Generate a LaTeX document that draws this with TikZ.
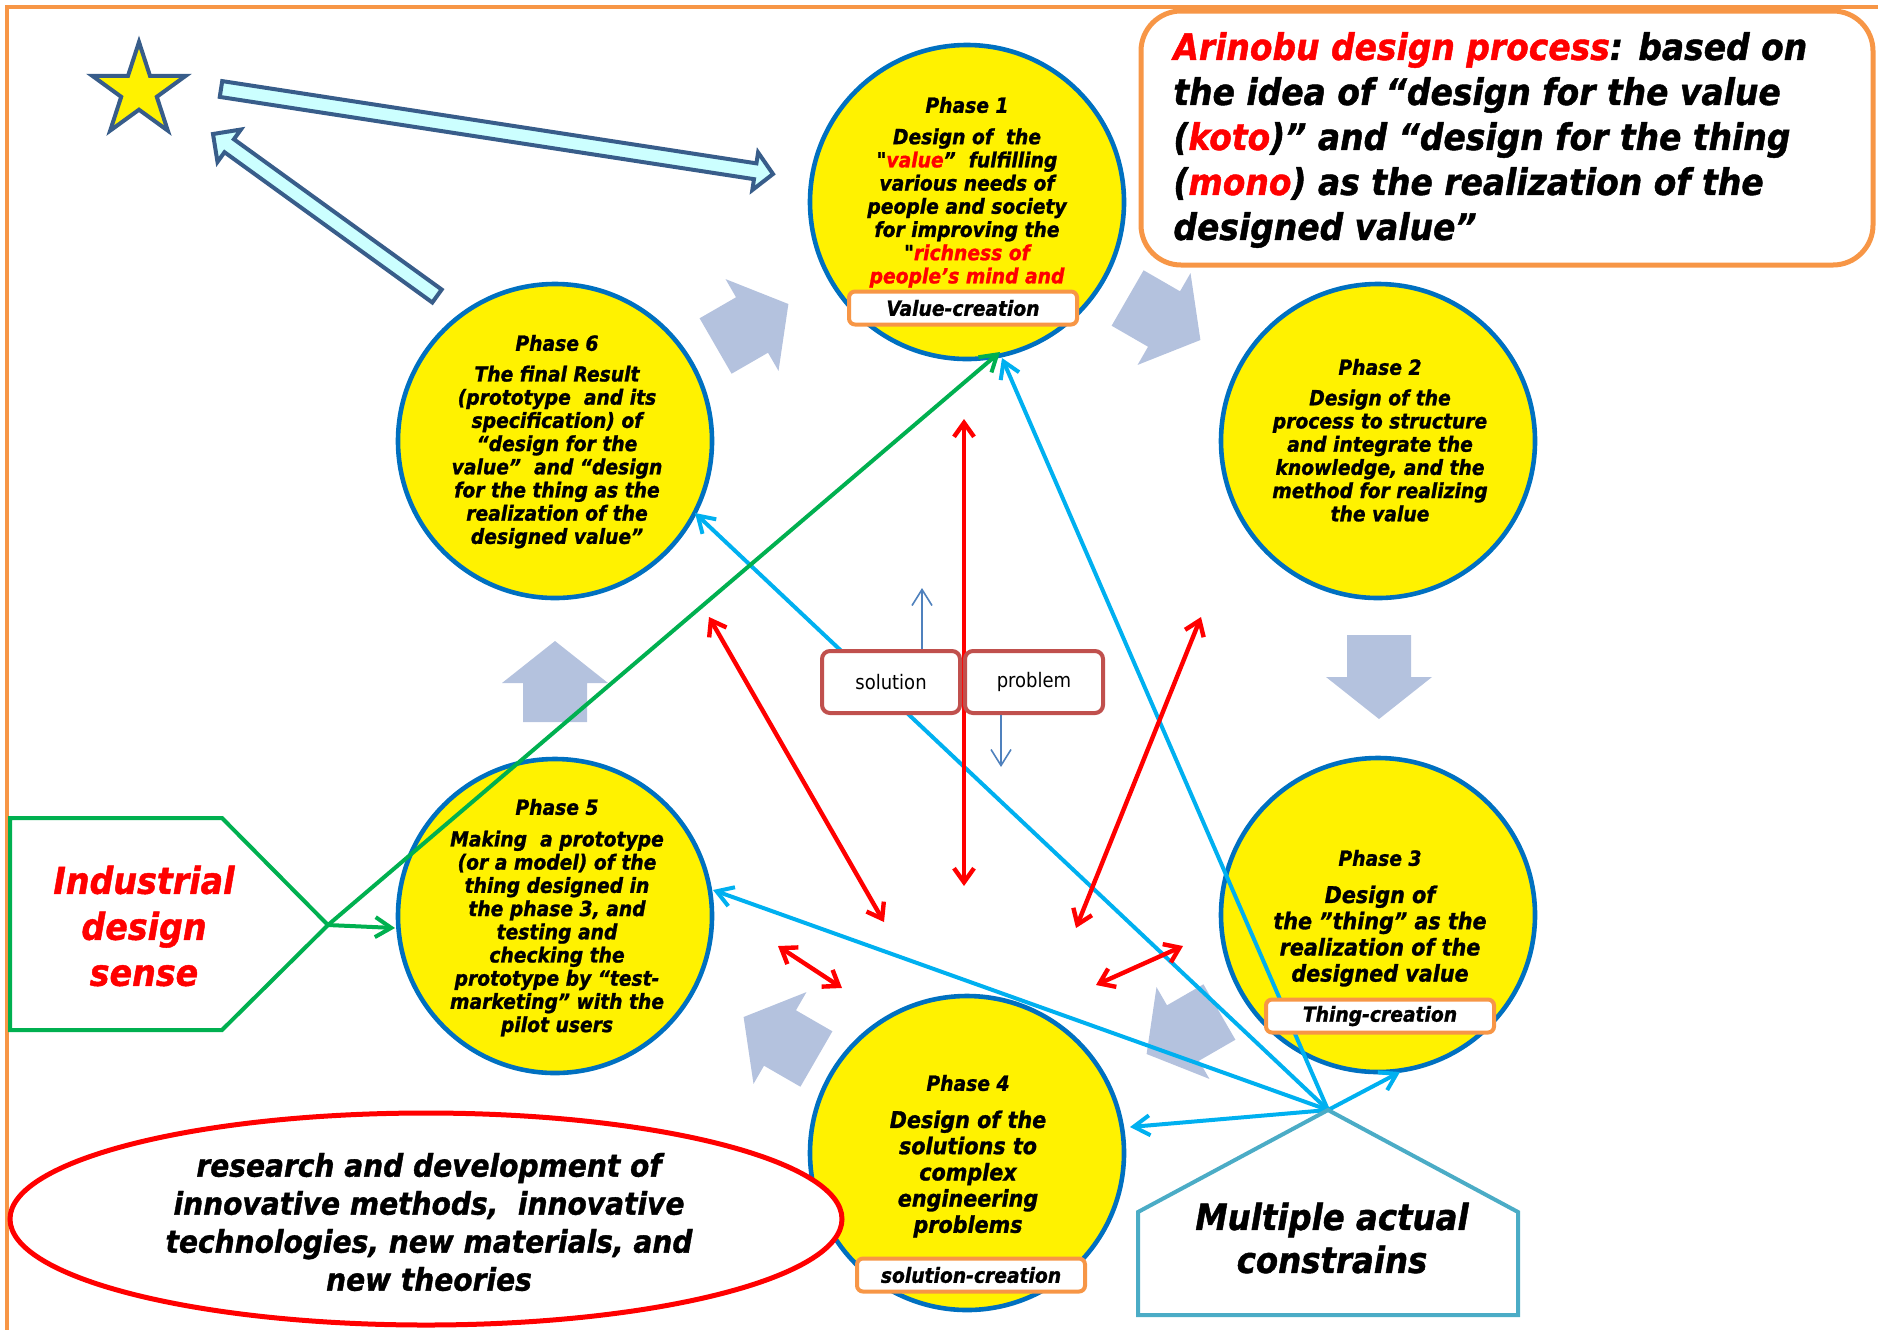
\documentclass[tikz,border=0pt]{standalone}
\usepackage{fontspec}
\usetikzlibrary{calc,arrows.meta,shapes.geometric}
\newfontfamily\dvs[FakeStretch=0.9, BoldItalicFeatures={FakeBold=1.2}]{DejaVu Sans}
\newcommand\bif{\dvs\bfseries\itshape}
\newcommand\fsz[2]{\fontsize{#1}{#2}\selectfont}

\definecolor{phaseblue}{RGB}{0,112,192}
\definecolor{tagorange}{RGB}{247,150,70}
\definecolor{linkblue}{RGB}{0,176,240}
\definecolor{sensegreen}{RGB}{0,176,80}
\definecolor{teal}{RGB}{75,172,198}
\definecolor{boxred}{RGB}{192,80,77}
\definecolor{thinblue}{RGB}{79,129,189}
\definecolor{cyclegray}{RGB}{180,194,222}
\definecolor{starblue}{RGB}{56,93,138}
\definecolor{paleblue}{RGB}{204,255,255}

% block arrow: style, start, tip, half shaft width, half head width, head length
\newcommand\blockarrow[6]{%
  \path ($#3!#6!#2$) coordinate (ba-h);
  \draw[#1] ($#2!#4!90:#3$) -- ($(ba-h)!#4!90:#3$) -- ($(ba-h)!#5!90:#3$) -- #3
    -- ($(ba-h)!#5!-90:#3$) -- ($(ba-h)!#4!-90:#3$) -- ($#2!#4!-90:#3$) -- cycle;}

\tikzset{
  phase/.style={circle, draw=phaseblue, fill=yellow, line width=2.3pt, minimum size=157pt, inner sep=0pt},
  ptitle/.style={font=\bif\fsz{10.4}{11.6}, inner sep=0pt},
  pbody/.style={align=center, font=\bif\fsz{10.4}{11.6}, inner sep=0pt},
  pbodyL/.style={align=center, font=\bif\fsz{11.5}{13.1}, inner sep=0pt},
  tag/.style={draw=tagorange, fill=white, line width=2pt, rounded corners=3pt, minimum width=114pt, minimum height=16.5pt, inner sep=0pt, font=\bif\fsz{10.4}{12}},
  cyclearrow/.style={fill=cyclegray, draw=none},
  hollowarrow/.style={fill=paleblue, draw=starblue, line width=2pt, line join=miter},
  barb/.style={line width=2pt, -{Straight Barb[length=8pt,width=10pt]}},
  redlink/.style={red, line width=2.2pt, {Straight Barb[length=7pt,width=10pt]}-{Straight Barb[length=7pt,width=10pt]}},
  spbox/.style={draw=boxred, fill=white, line width=2pt, rounded corners=4pt, minimum width=69pt, minimum height=31pt, inner sep=0pt, font=\dvs\fsz{10}{12}},
  thinarrow/.style={thinblue, line width=0.8pt, -{Straight Barb[length=8pt,width=10pt]}},
}

\begin{document}
\begin{tikzpicture}[x=0.5pt,y=-0.5pt]
\useasboundingbox (0,0) rectangle (1878,1329);
\clip (0,0) rectangle (1878,1329);

% outer frame
\draw[tagorange, line width=2pt] (7,7) rectangle (1900,1350);

% arrows of the phase cycle
\coordinate (g1s) at (715.6,346);    \coordinate (g1t) at (788.4,304);
\coordinate (g2s) at (1127.6,298);   \coordinate (g2t) at (1200.4,340);
\coordinate (g3s) at (1379,635);     \coordinate (g3t) at (1379,719);
\coordinate (g4s) at (1219.4,1012);  \coordinate (g4t) at (1146.6,1054);
\coordinate (g5s) at (816.4,1059);   \coordinate (g5t) at (743.6,1017);
\coordinate (g6s) at (555,722);      \coordinate (g6t) at (555,641);
\foreach \s/\t in {g1s/g1t,g2s/g2t,g3s/g3t,g4s/g4t,g5s/g5t,g6s/g6t}
  {\blockarrow{cyclearrow}{(\s)}{(\t)}{16pt}{26.5pt}{21pt}}

% star and the two hollow arrows
\draw[fill=yellow, draw=starblue, line width=2pt, line join=miter]
  (139,42) -- (150,75.9) -- (185.6,75.9) -- (156.8,96.8) -- (167.8,130.6)
  -- (139,109.7) -- (110.2,130.6) -- (121.2,96.8) -- (92.4,75.9) -- (128,75.9) -- cycle;
\coordinate (ha1) at (221,89);  \coordinate (ha2) at (773,174);
\coordinate (hb1) at (437,296); \coordinate (hb2) at (213,134);
\blockarrow{hollowarrow}{(ha1)}{(ha2)}{4pt}{9.5pt}{9pt}
\blockarrow{hollowarrow}{(hb1)}{(hb2)}{4pt}{10pt}{10pt}

% the six phases
\node[phase] (p1) at (967,202) {};
\node[phase] (p2) at (1378,441) {};
\node[phase] (p3) at (1378,915) {};
\node[phase] (p4) at (967,1153) {};
\node[phase] (p5) at (555,916) {};
\node[phase] (p6) at (555,441) {};

% constraints feeding every phase
\coordinate (ca) at (1328,1110);
\coordinate (c1) at (1002,358);
\coordinate (c6) at (695,513);
\coordinate (c5) at (713,890);
\coordinate (c4) at (1130,1127);
\coordinate (c3) at (1400,1072);
\foreach \t in {c1,c6,c5,c4,c3} \draw[barb, linkblue] (ca) -- (\t);

% industrial design sense
\coordinate (ga) at (328,925);
\coordinate (gp1) at (1000,352);
\coordinate (gp5) at (395,928);
\draw[barb, sensegreen] (ga) -- (gp1);
\draw[barb, sensegreen] (ga) -- (gp5);

% interactions between phases
\coordinate (rv1) at (964,419);  \coordinate (rv2) at (964,886);
\coordinate (rl1) at (709,617);  \coordinate (rl2) at (884,922);
\coordinate (rr1) at (1201,617); \coordinate (rr2) at (1076,928);
\coordinate (rb1) at (778,946);  \coordinate (rb2) at (842,988);
\coordinate (rc1) at (1183,946); \coordinate (rc2) at (1096,985);
\draw[redlink] (rv1) -- (rv2);
\draw[redlink] (rl1) -- (rl2);
\draw[redlink] (rr1) -- (rr2);
\draw[redlink] (rb1) -- (rb2);
\draw[redlink] (rc1) -- (rc2);

% research ellipse
\node[ellipse, draw=red, fill=white, line width=2.5pt, minimum width=416pt, minimum height=106pt, inner sep=0pt] (rnd) at (426,1219) {};
\node[align=center, font=\bif\fsz{15.6}{19}, inner sep=0pt] (rndtext) at (429,1222)
  {research and development of\\ innovative methods,\ \ innovative\\ technologies, new materials, and\\ new theories};

% side pentagons
\draw[sensegreen, line width=2pt, line join=miter, fill=white] (10,818) -- (222,818) -- (ga) -- (222,1030) -- (10,1030) -- cycle;
\node[align=center, text=red, font=\bif\fsz{18.5}{23}, inner sep=0pt] (idsense) at (144,926) {Industrial\\ design\\ sense};
\draw[teal, line width=2pt, line join=miter] (ca) -- (1518,1212) -- (1518,1315) -- (1138,1315) -- (1138,1212) -- cycle;
\node[align=center, font=\bif\fsz{18}{21.5}, inner sep=0pt] (mactext) at (1332,1238) {Multiple actual\\ constrains};

% phase texts
\node[ptitle] (t1) at (967,105) {Phase 1};
\node[pbody] (b1) at (967,208) {Design of\ \ the\\ "\textcolor{red}{value}”\ \ fulfilling\\ various needs of\\ people and society\\ for improving the\\ "\textcolor{red}{richness of}\\ \textcolor{red}{people’s mind and}};
\node[ptitle] (t2) at (1380,367) {Phase 2};
\node[pbody] (b2) at (1380,455.5) {Design of the\\ process to structure\\ and integrate the\\ knowledge, and the\\ method for realizing\\ the value};
\node[ptitle] (t3) at (1380,858) {Phase 3};
\node[pbodyL] (b3) at (1380,936) {Design of\\ the ”thing” as the\\ realization of the\\ designed value};
\node[ptitle] (t4) at (968,1083) {Phase 4};
\node[pbodyL] (b4) at (968,1174) {Design of the\\ solutions to\\ complex\\ engineering\\ problems};
\node[ptitle] (t5) at (557,807) {Phase 5};
\node[pbody] (b5) at (557,933.5) {Making\ \ a prototype\\ (or a model) of the\\ thing designed in\\ the phase 3, and\\ testing and\\ checking the\\ prototype by “test-\\ marketing” with the\\ pilot users};
\node[ptitle] (t6) at (557,343) {Phase 6};
\node[pbody] (b6) at (557,457) {The final Result\\ (prototype\ \ and its\\ specification) of\\ “design for the\\ value”\ \ and “design\\ for the thing as the\\ realization of the\\ designed value”};

% creation tags
\node[tag] (tagv) at (963,308) {Value-creation};
\node[tag] (tagt) at (1380,1016) {Thing-creation};
\node[tag] (tags) at (971,1275) {solution-creation};

% solution / problem
\node[spbox] (sol) at (891,682) {solution};
\node[spbox] (prob) at (1034,682) {problem};
\coordinate (solup) at (922,588);
\coordinate (probdn) at (1001,767);
\draw[thinarrow] (sol.north -| solup) -- (solup);
\draw[thinarrow] (prob.south -| probdn) -- (probdn);

% title box
\node[draw=tagorange, fill=white, line width=2.5pt, rounded corners=20pt, minimum width=366pt, minimum height=127pt, inner sep=0pt] (infobox) at (1507,138) {};
\node[anchor=west, align=left, font=\bif\fsz{18.3}{22.5}, inner sep=0pt] (infotext) at (1173,140)
  {\textcolor{red}{Arinobu design process}: based on\\ the idea of “design for the value\\ (\textcolor{red}{koto})” and “design for the thing\\ (\textcolor{red}{mono}) as the realization of the\\ designed value”};
\end{tikzpicture}
\end{document}
